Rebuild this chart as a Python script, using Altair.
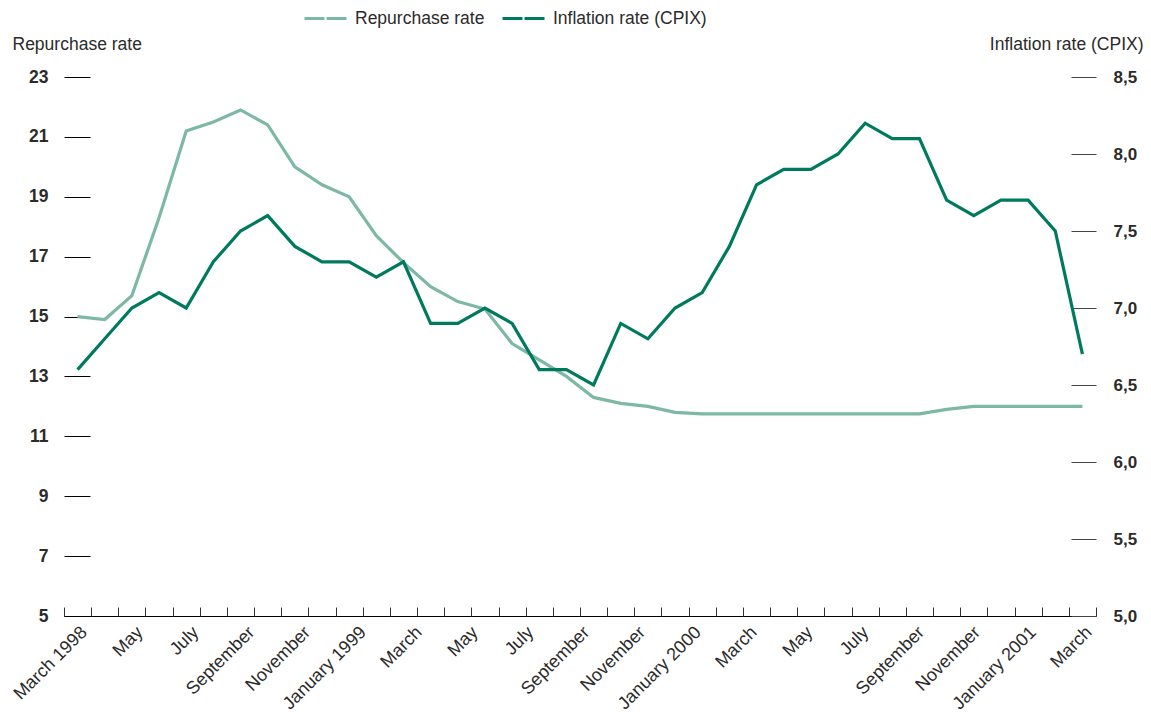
import altair as alt
import pandas as pd

# ---- data ----
month_labels = ["March 1998", "May", "July", "September", "November", "January 1999",
                "March", "May", "July", "September", "November", "January 2000",
                "March", "May", "July", "September", "November", "January 2001", "March"]

repo_rate = [15.0, 14.9, 15.7, 18.3, 21.2, 21.5, 21.9, 21.4, 20.0, 19.4,
             19.0, 17.7, 16.8, 16.0, 15.5, 15.25, 14.1, 13.55, 13.0, 12.3,
             12.1, 12.0, 11.8, 11.75, 11.75, 11.75, 11.75, 11.75, 11.75, 11.75,
             11.75, 11.75, 11.9, 12.0, 12.0, 12.0, 12.0, 12.0]

cpix = [6.6, 6.8, 7.0, 7.1, 7.0, 7.3, 7.5, 7.6, 7.4, 7.3,
        7.3, 7.2, 7.3, 6.9, 6.9, 7.0, 6.9, 6.6, 6.6, 6.5,
        6.9, 6.8, 7.0, 7.1, 7.4, 7.8, 7.9, 7.9, 8.0, 8.2,
        8.1, 8.1, 7.7, 7.6, 7.7, 7.7, 7.5, 6.7]

series_names = ["Repurchase rate", "Inflation rate (CPIX)"]
series_colors = ["#7DB8A4", "#007A5E"]

left_ticks = [5, 7, 9, 11, 13, 15, 17, 19, 21, 23]
right_ticks = [5.0, 5.5, 6.0, 6.5, 7.0, 7.5, 8.0, 8.5]

n = len(repo_rate)
df = pd.DataFrame({
    "idx": list(range(n)) * 2,
    "value": repo_rate + cpix,
    "series": [series_names[0]] * n + [series_names[1]] * n,
})

nl = len(month_labels)
label_pos = [k * (n - 1) / (nl - 1) for k in range(nl)]
label_expr = "[" + ",".join("'" + m + "'" for m in month_labels) + \
    "][round(datum.value*" + str(nl - 1) + "/" + str(n - 1) + ")]"
boundaries = [i - 0.5 for i in range(n + 1)]

FONT = "Liberation Sans"
TXT = "#2b2b2b"

xscale = alt.Scale(domain=[-0.5, n - 0.5], nice=False, zero=False)

color = alt.Color(
    "series:N",
    scale=alt.Scale(domain=series_names, range=series_colors),
    legend=alt.Legend(
        title=None, orient="none", direction="horizontal",
        legendX=239, legendY=-81,
        symbolType="stroke", symbolSize=1764, symbolStrokeWidth=3,
        symbolDash=[20, 2],
        labelFont=FONT, labelFontSize=17.5, labelColor=TXT,
        labelOffset=7, columnPadding=11,
    ),
)

base = alt.Chart(df)

repo_layer = base.transform_filter(
    alt.datum.series == series_names[0]
).mark_line(strokeWidth=3.2).encode(
    x=alt.X("idx:Q", scale=xscale, axis=alt.Axis(
        orient="bottom", values=label_pos, labelExpr=label_expr,
        labelAngle=315, labelAlign="right", labelBaseline="top",
        labelFont=FONT, labelFontSize=18, labelColor=TXT, labelPadding=7,
        labelOverlap=False, labelFlush=False,
        ticks=False, domain=True, domainColor="#000000", domainWidth=1,
        grid=False, title=None)),
    y=alt.Y("value:Q", scale=alt.Scale(domain=[5, 23], nice=False, zero=False),
            axis=alt.Axis(
                orient="left", values=left_ticks, format="d",
                offset=-26, tickSize=26, tickColor="#000000", tickWidth=1,
                domain=False, grid=False,
                labelFont=FONT, labelFontSize=17.5, labelFontWeight="bold",
                labelColor=TXT, labelPadding=16,
                title=series_names[0], titleAngle=0, titleX=-78, titleY=-33,
                titleAlign="left", titleBaseline="middle",
                titleFont=FONT, titleFontSize=17.5, titleFontWeight="normal",
                titleColor=TXT)),
    color=color,
)

cpix_layer = base.transform_filter(
    alt.datum.series == series_names[1]
).mark_line(strokeWidth=3.2).encode(
    x=alt.X("idx:Q", scale=xscale, axis=alt.Axis(
        orient="bottom", values=boundaries, labels=False,
        ticks=True, tickSize=9, tickColor="#333333", tickWidth=1,
        domain=False, offset=-9, grid=False, title=None)),
    y=alt.Y("value:Q", scale=alt.Scale(domain=[5, 8.5], nice=False, zero=False),
            axis=alt.Axis(
                orient="right", values=right_ticks,
                labelExpr="replace(format(datum.value, '.1f'), '.', ',')",
                offset=-25, tickSize=25, tickColor="#444444", tickWidth=1,
                domain=False, grid=False,
                labelFont=FONT, labelFontSize=17, labelFontWeight="bold",
                labelColor=TXT, labelPadding=17,
                title=series_names[1], titleAngle=0, titleX=72, titleY=-33,
                titleAlign="right", titleBaseline="middle",
                titleFont=FONT, titleFontSize=17.5, titleFontWeight="normal",
                titleColor=TXT)),
    color=color,
)

chart = alt.layer(repo_layer, cpix_layer).resolve_scale(
    y="independent"
).resolve_axis(
    x="independent", y="independent"
).properties(
    width=1032, height=539,
    autosize=alt.AutoSizeParams(type="none"),
    padding={"left": 56, "top": 69, "right": 47, "bottom": 100},
).configure_view(stroke=None)

chart.save("out.html", embed_options={"renderer": "svg", "actions": False})
